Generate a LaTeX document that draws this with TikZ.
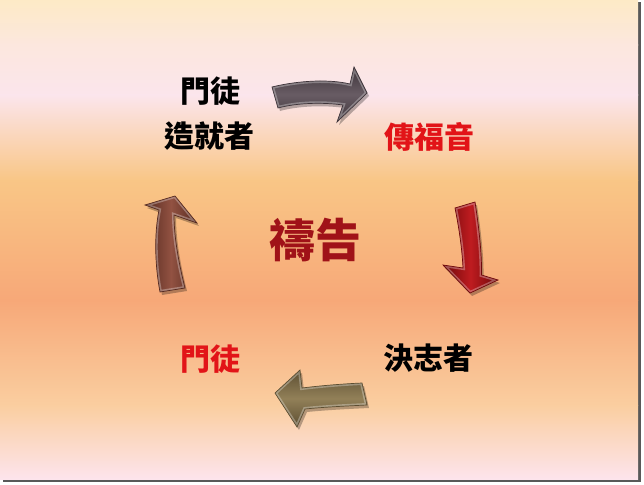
\documentclass[tikz,border=0pt]{standalone}
\usepackage{fontspec}
\newfontfamily\cjk{Noto Sans CJK TC}
\definecolor{bg0}{RGB}{253,234,198}
\definecolor{bg1}{RGB}{252,231,222}
\definecolor{bg2}{RGB}{251,229,236}
\definecolor{bg3}{RGB}{249,198,134}
\definecolor{bg4}{RGB}{247,168,120}
\definecolor{bg5}{RGB}{250,206,160}
\definecolor{bg6}{RGB}{253,228,236}
\definecolor{aTop}{RGB}{104,92,100}
\definecolor{aTopD}{RGB}{62,52,58}
\definecolor{aRight}{RGB}{190,28,32}
\definecolor{aRightD}{RGB}{110,8,10}
\definecolor{aLeft}{RGB}{146,82,66}
\definecolor{aLeftD}{RGB}{86,42,32}
\definecolor{aBot}{RGB}{146,128,88}
\definecolor{aBotD}{RGB}{92,78,50}
\definecolor{txtred}{RGB}{226,20,24}
\definecolor{txtdred}{RGB}{160,18,24}
\tikzset{
  lbl/.style={font=\cjk\bfseries\fontsize{30}{30}\selectfont, inner sep=0pt},
  biglbl/.style={font=\cjk\bfseries\fontsize{46}{46}\selectfont, inner sep=0pt},
  arrshadow/.style={fill=black, fill opacity=0.28},
  bevel/.style={draw=white, draw opacity=0.3, line width=4pt},
  arredge/.style={draw=#1, line width=0.7pt}
}
\def\arrowTop{(272,87) .. controls (292,82) and (325,78) .. (350,84) -- (354,67) -- (367,93) -- (337,122) -- (343,105) .. controls (322,102) and (296,103) .. (278,108) -- cycle}
\def\arrowRight{(455,208) -- (475,202) .. controls (479,228) and (482,255) .. (481.5,275) -- (498,280) -- (470,293) -- (443,265) -- (463,268) .. controls (462,248) and (459,228) .. (455,208) -- cycle}
\def\arrowLeft{(160,292) -- (185,288) .. controls (180,268) and (174,240) .. (174,215) -- (197,223) -- (175,196) -- (145,205) -- (159,210) .. controls (154,235) and (155,266) .. (160,292) -- cycle}
\def\arrowBottom{(367,405) -- (362,383) .. controls (340,384) and (318,386) .. (302,388) -- (300,370) -- (275,393) -- (297,427) -- (305,409) .. controls (325,407) and (346,406) .. (367,405) -- cycle}
\begin{document}
\begin{tikzpicture}[x=1pt,y=-1pt]
\useasboundingbox (0,0) rectangle (644,484);
\fill[white] (0,0) rectangle (644,484);
\fill[black!65] (2.5,2.5) rectangle (640.5,481.5);
% background bands
\shade[top color=bg0, bottom color=bg1] (0,0) rectangle (638,45.5);
\shade[top color=bg1, bottom color=bg2] (0,45) rectangle (638,95.5);
\shade[top color=bg2, bottom color=bg3] (0,95) rectangle (638,180.5);
\shade[top color=bg3, bottom color=bg4] (0,180) rectangle (638,300.5);
\shade[top color=bg4, bottom color=bg5] (0,300) rectangle (638,405.5);
\shade[top color=bg5, bottom color=bg6] (0,405) rectangle (638,479);
% top arrow
\fill[arrshadow, shift={(2,3)}] \arrowTop;
\shade[top color=aTopD, bottom color=aTopD, middle color=aTop] \arrowTop;
\begin{scope}\clip \arrowTop; \draw[bevel] \arrowTop; \end{scope}
\draw[arredge=aTopD] \arrowTop;
% right arrow
\fill[arrshadow, shift={(2,3)}] \arrowRight;
\shade[left color=aRightD, right color=aRightD, middle color=aRight] \arrowRight;
\begin{scope}\clip \arrowRight; \draw[bevel] \arrowRight; \end{scope}
\draw[arredge=aRightD] \arrowRight;
% bottom arrow
\fill[arrshadow, shift={(2,3)}] \arrowBottom;
\shade[top color=aBotD, bottom color=aBotD, middle color=aBot] \arrowBottom;
\begin{scope}\clip \arrowBottom; \draw[bevel] \arrowBottom; \end{scope}
\draw[arredge=aBotD] \arrowBottom;
% left arrow
\fill[arrshadow, shift={(2,3)}] \arrowLeft;
\shade[left color=aLeftD, right color=aLeftD, middle color=aLeft] \arrowLeft;
\begin{scope}\clip \arrowLeft; \draw[bevel] \arrowLeft; \end{scope}
\draw[arredge=aLeftD] \arrowLeft;
% labels
\node[lbl, text=black] (n1a) at (210,91) {門徒};
\node[lbl, text=black] (n1b) at (209,136) {造就者};
\node[lbl, text=txtred] (n2) at (429,137) {傳福音};
\node[lbl, text=black] (n3) at (428,358) {決志者};
\node[lbl, text=txtred] (n4) at (210,359) {門徒};
\node[biglbl, text=txtdred] (nc) at (315,240) {禱告};
\end{tikzpicture}
\end{document}
